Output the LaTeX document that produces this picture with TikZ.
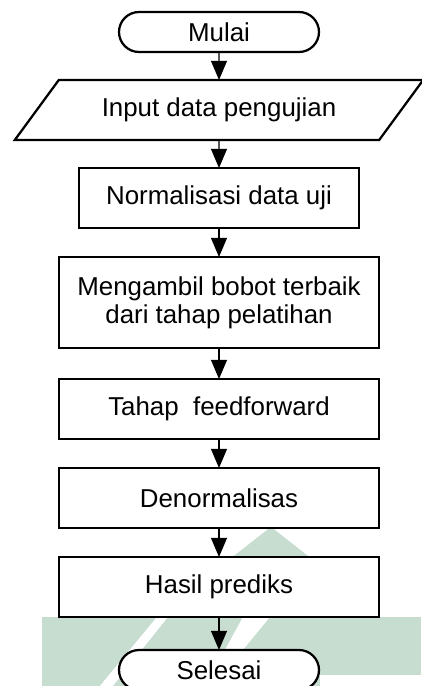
\documentclass[tikz,border=0pt]{standalone}
\usepackage{fontspec}
\setmainfont{Liberation Sans}
\usetikzlibrary{positioning,shapes.geometric,arrows.meta}
\definecolor{wmgreen}{RGB}{198,221,208}

\begin{document}
\begin{tikzpicture}[
  box/.style={draw,line width=1.6pt,fill=white,outer sep=0pt,minimum height=1.5cm,align=center,
    font=\fontsize{18.4}{20}\selectfont},
  term/.style={box,rounded corners=0.5cm,minimum width=5cm,minimum height=1cm},
  io/.style={box,trapezium,trapezium left angle=45,trapezium right angle=135,
    trapezium stretches=true,minimum width=10.225cm},
  flow/.style={-{Triangle[width=0.4cm,length=0.48cm]},line width=0.9pt}
]
\useasboundingbox (-5.475,0.8) rectangle (5.05,-16.35);
%watermark, in pixels of the page
\begin{scope}[x=0.025cm,y=-0.025cm,shift={(-219,-32)}]
\fill[wmgreen] (271,527) -- (156,617) -- (378,617) -- (378,611) --cycle;
\fill[wmgreen] (42,617) rectangle (421,675);
\fill[wmgreen] (42,675) rectangle (320,686);
\fill[white] (157,617) -- (168,617) -- (113,686) -- (100,686) --cycle;
\fill[white] (243,617) -- (270,617) -- (243,650) -- (225,650) --cycle;
\end{scope}

%flow steps
\node[term] (mulai) at (0,0) {Mulai};
\node[io,below=0.7cm of mulai] (input) {Input data pengujian};
\node[box,minimum width=7cm,below=0.7cm of input] (norm) {Normalisasi data uji};
\node[box,minimum width=8cm,minimum height=2.275cm,below=0.725cm of norm] (ambil) {Mengambil bobot terbaik\\dari tahap pelatihan};
\node[box,minimum width=8cm,below=0.775cm of ambil] (ff) {Tahap~ feedforward};
\node[box,minimum width=8cm,below=0.725cm of ff] (denorm) {Denormalisas};
\node[box,minimum width=8cm,below=0.725cm of denorm] (hasil) {Hasil prediks};
\node[term,below=0.825cm of hasil] (selesai) {Selesai};

%arrows
\foreach \a/\b in {mulai/input,input/norm,norm/ambil,ambil/ff,ff/denorm,denorm/hasil,hasil/selesai}{
 \draw[flow] (\a) -- (\b);
}
\end{tikzpicture}
\end{document}
